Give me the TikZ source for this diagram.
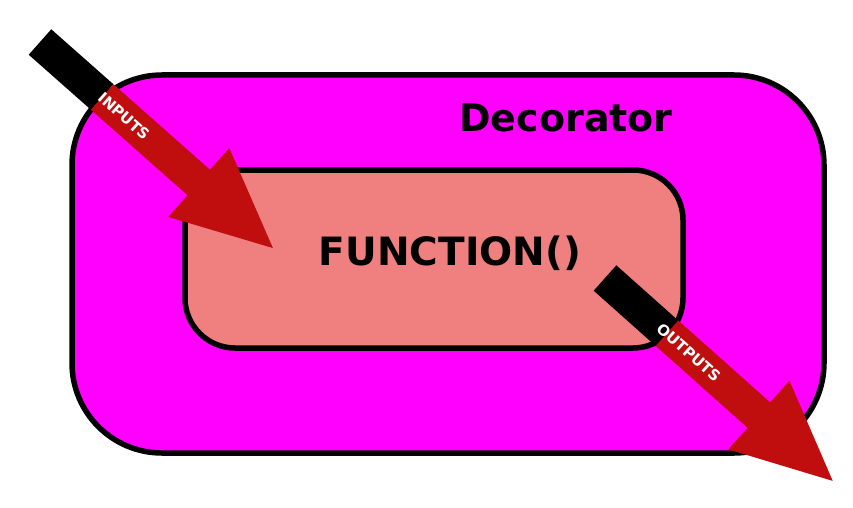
\documentclass[tikz,border=0pt]{standalone}
\usepackage{fontspec}
\setmainfont{DejaVu Sans}
\definecolor{shellpink}{RGB}{255,0,255}
\definecolor{corecoral}{RGB}{240,128,128}
\definecolor{flowred}{RGB}{192,14,14}
\newcommand\fatArrow[4]{% start, angle, length, label
  \begin{scope}[shift={#1}, rotate=#2]
    \fill[black] (0,-17) rectangle (83,17);
    \fill[flowred] (83,-17) -- (#3-99,-17) -- (#3-99,-46) -- (#3,0)
      -- (#3-99,46) -- (#3-99,17) -- (83,17) -- cycle;
    \node[text=white, rotate=#2, font=\bfseries\fontsize{15}{15}\selectfont] at (112,0) {#4};
  \end{scope}}
\begin{document}
\begin{tikzpicture}[x=1pt, y=-1pt,
    frame/.style={draw=black, line width=5.5pt, rounded corners=#1}]
  \useasboundingbox (0,0) rectangle (853,508);
  \node[frame=90pt, fill=shellpink, minimum width=752pt, minimum height=378pt] (shell) at (448,264) {};
  \node[frame=50pt, fill=corecoral, minimum width=498pt, minimum height=178pt] (core) at (434,259) {};
  \node[font=\bfseries\fontsize{38}{38}\selectfont] (deco) at (566,118) {Decorator};
  \node[font=\bfseries\fontsize{39}{39}\selectfont] (func) at (450,253) {FUNCTION()};
  \fatArrow{(40,42)}{-41.5}{311}{INPUTS}
  \fatArrow{(605,278)}{-41.7}{305}{OUTPUTS}
\end{tikzpicture}
\end{document}
